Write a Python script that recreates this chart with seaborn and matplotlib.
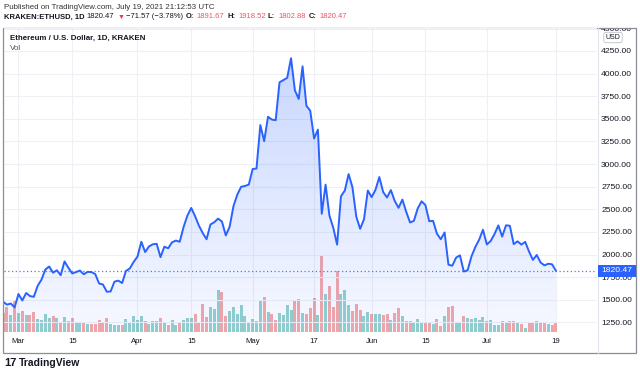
import numpy as np
import pandas as pd
import matplotlib
matplotlib.use("Agg")
import matplotlib.pyplot as plt
import matplotlib.dates as mdates
import seaborn as sns
from matplotlib.patches import Rectangle, PathPatch
from matplotlib.lines import Line2D

# KRAKEN:ETHUSD daily closes, 25 Feb - 19 Jul 2021
start_date = "2021-02-25"
prev_close = 1626.0  # close of 24 Feb = open of the first candle
close = [
    1478, 1446, 1459, 1416,
    1564, 1492, 1575, 1541, 1533, 1654, 1723, 1834, 1868, 1799, 1826, 1772, 1924, 1854, 1791, 1806,
    1823, 1782, 1808, 1806, 1784, 1680, 1669, 1589, 1592, 1700, 1712, 1685, 1819, 1846, 1918,
    1977, 2141, 2027, 2090, 2113, 2118, 1971, 2087, 2069, 2135, 2154, 2141, 2303, 2430, 2515,
    2424, 2319, 2237, 2169, 2332, 2357, 2397, 2365, 2211, 2306, 2534, 2662, 2749, 2757, 2773,
    2945, 2950, 3431, 3253, 3522, 3491, 3484, 3903, 3928, 3952, 4169, 3815, 3719, 4079, 3644,
    3589, 3282, 3380, 2450, 2772, 2430, 2296, 2109, 2643, 2706, 2889, 2742, 2418, 2284, 2389, 2707,
    2634, 2716, 2856, 2690, 2630, 2712, 2593, 2516, 2607, 2473, 2354, 2372, 2510, 2588, 2547,
    2368, 2372, 2231, 2169, 2244, 1888, 1876, 1966, 1991, 1812, 1826, 1979, 2083, 2164, 2274,
    2111, 2149, 2226, 2322, 2198, 2323, 2318, 2115, 2146, 2110, 2140, 2032, 1941, 1995, 1912,
    1880, 1898, 1892, 1820.47,
]
# volume, relative units
volume = [
    19, 25, 17, 31, 19, 21, 17, 17, 20, 13,
    12, 18, 14, 16, 14, 10, 15, 11, 14, 10,
    10, 10, 8, 8, 8, 12, 10, 14, 8, 7,
    7, 7, 13, 9, 16, 12, 16, 11, 8, 11,
    11, 14, 9, 7, 12, 7, 9, 12, 14, 14,
    18, 10, 28, 15, 25, 23, 42, 40, 16, 21,
    25, 18, 27, 16, 10, 13, 11, 32, 35, 20,
    18, 12, 19, 17, 27, 22, 32, 33, 19, 18,
    24, 34, 17, 76, 38, 46, 25, 61, 38, 42,
    27, 21, 28, 22, 16, 20, 18, 18, 18, 17,
    18, 12, 19, 24, 16, 11, 11, 10, 13, 10,
    10, 10, 8, 13, 6, 16, 25, 26, 10, 10,
    16, 14, 13, 14, 12, 15, 11, 12, 7, 7,
    11, 9, 11, 11, 10, 8, 4, 9, 10, 11,
    10, 9, 8, 7, 10,
]

price_ticks = [1250, 1500, 1750, 2000, 2250, 2500, 2750, 3000, 3250, 3500, 3750, 4000, 4250, 4500]
date_ticks = ["2021-03-01", "2021-03-15", "2021-04-01", "2021-04-15", "2021-05-01",
              "2021-05-17", "2021-06-01", "2021-06-15", "2021-07-01", "2021-07-19"]
date_labels = ["Mar", "15", "Apr", "15", "May", "17", "Jun", "15", "Jul", "19"]

header_title = "Published on TradingView.com, July 19, 2021 21:12:53 UTC"
symbol = "KRAKEN:ETHUSD, 1D"
last_change = "\u221271.57 (\u22123.78%)"
ohlc = [("O:", "1891.67"), ("H:", "1918.52"), ("L:", "1802.88"), ("C:", "1820.47")]

df = pd.DataFrame({
    "date": pd.date_range(start_date, periods=len(close), freq="D"),
    "close": close,
    "volume": volume,
})
df["open"] = [prev_close] + close[:-1]
df["x"] = mdates.date2num(df["date"])

line_color = "#2962ff"
up_color = (38 / 255, 166 / 255, 154 / 255, 0.5)
down_color = (239 / 255, 83 / 255, 80 / 255, 0.5)
red_txt = "#f7525f"
grid_color = "#eef0f5"
text_color = "#131722"

sns.set_style("white")
plt.rcParams["font.family"] = ["Liberation Sans", "DejaVu Sans"]

W, H = 640, 372
fig = plt.figure(figsize=(W / 100, H / 100), dpi=100)


def fx(px):
    return px / W


def fy(py):
    return 1 - py / H


L, R, T, B = 4, 597, 28, 332
ax_vol = fig.add_axes([fx(L), fy(B), fx(R) - fx(L), fy(T) - fy(B)])
ax = ax_vol.twinx()
ax.set_zorder(ax_vol.get_zorder() + 1)
ax.patch.set_visible(False)

# volume bars, coloured by candle direction
colors = [up_color if c >= o else down_color for c, o in zip(df["close"], df["open"])]
ax_vol.bar(df["x"], df["volume"], width=0.78, color=colors, linewidth=0, zorder=2)

# price line
sns.lineplot(data=df, x="x", y="close", ax=ax, color=line_color, linewidth=1.4, zorder=4)

x0 = df["x"].iloc[0]
xlim = (x0 + 0.23, x0 + 154.7)
ylim = (1144, 4503)

# gradient area under the line
fill = ax.fill_between(df["x"], df["close"], ylim[0], facecolor="none", edgecolor="none")
clip = PathPatch(fill.get_paths()[0], transform=ax.transData, facecolor="none", edgecolor="none")
ax.add_patch(clip)
grad = np.zeros((256, 1, 4))
grad[..., :3] = matplotlib.colors.to_rgb(line_color)
grad[..., 3] = np.linspace(0.28, 0.04, 256)[:, None]
img = ax.imshow(grad, aspect="auto", origin="upper", interpolation="bilinear",
                extent=[df["x"].iloc[0], df["x"].iloc[-1], ylim[0], ylim[1]], zorder=1)
img.set_clip_path(clip)

# last price dotted line
ax.axhline(close[-1], color="#4a7bff", lw=0.9, ls=(0, (1, 2)), zorder=3)

for a in (ax, ax_vol):
    a.set_xlim(*xlim)
    for s in a.spines.values():
        s.set_visible(False)
ax.set_ylim(*ylim)
ax_vol.set_ylim(0, max(volume) * 4.0)
ax.set_xlabel("")
ax.set_ylabel("")
ax_vol.set_ylabel("")

ax_vol.set_yticks([])
ax_vol.set_xticks(mdates.date2num(pd.to_datetime(date_ticks)))
ax_vol.set_xticklabels(date_labels)
ax_vol.tick_params(axis="x", length=0, pad=4, labelsize=5.6, labelcolor=text_color)
ax_vol.grid(axis="x", color=grid_color, lw=0.8)

ax.set_yticks(price_ticks)
ax.set_yticklabels([f"{p:.2f}" for p in price_ticks])
ax.tick_params(axis="y", right=True, length=0, pad=3, labelsize=6.1, labelcolor=text_color)
ax.grid(axis="y", color=grid_color, lw=0.8)
clip_box = Rectangle((fx(590), fy(353)), fx(640) - fx(590), fy(28.5) - fy(353),
                     transform=fig.transFigure, visible=False)
fig.add_artist(clip_box)
for lab in ax.get_yticklabels():
    lab.set_clip_on(True)
    lab.set_clip_path(clip_box)

# frame and separators
fig.add_artist(Rectangle((fx(3), fy(353)), fx(636) - fx(3), fy(28) - fy(353),
                         transform=fig.transFigure, fill=False, edgecolor="#8a8d96", lw=0.9))
fig.add_artist(Line2D([fx(597.5)] * 2, [fy(28), fy(353)], transform=fig.transFigure,
                      color="#e0e3eb", lw=0.8))

# last price tag on the price scale
y_disp = ax.transData.transform((x0, close[-1]))[1]
fig.add_artist(Rectangle((fx(597.5), (y_disp - 6) / H), fx(636) - fx(597.5), 12 / H,
                         transform=fig.transFigure, facecolor=line_color, edgecolor="none",
                         zorder=10))
fig.text(fx(617), y_disp / H, f"{close[-1]:.2f}", ha="center", va="center",
         fontsize=6.1, color="white", zorder=11)

# USD unit badge
fig.text(fx(613), fy(37.5), "USD", ha="center", va="center", fontsize=5, color=text_color,
         bbox=dict(boxstyle="round,pad=0.25,rounding_size=0.3", fc="white", ec="#b2b5be", lw=0.5))


def ftext(px, py, s, **kw):
    return fig.text(fx(px), fy(py), s, ha="left", va="center", **kw)


ftext(3.5, 7.5, header_title, fontsize=5.7, color="#333333")
ftext(3.5, 17, symbol, fontsize=5.5, fontweight="bold", color=text_color)
ftext(86, 17, f"{close[-1]:.2f}", fontsize=5.5, color=text_color)
ftext(118, 17, "\u25bc", fontsize=5, color="#f23645")
ftext(126, 17, last_change, fontsize=5.5, color=text_color)
for (lab, val), px in zip(ohlc, [186, 228, 268, 309]):
    ftext(px, 17, lab, fontsize=5.5, fontweight="bold", color=text_color)
    ftext(px + 10, 17, val, fontsize=5.5, color=red_txt)

ftext(10, 38.5, "Ethereum / U.S. Dollar, 1D, KRAKEN", fontsize=5.7, fontweight="bold", color=text_color)
ftext(10, 48.5, "Vol", fontsize=5.8, color="#555555")

ftext(4, 363, "17", fontsize=8, fontweight="heavy", color="#131722")
ftext(18.5, 363, "TradingView", fontsize=7.5, fontweight="bold", color="#131722")

fig.savefig("out.png", dpi=100)
